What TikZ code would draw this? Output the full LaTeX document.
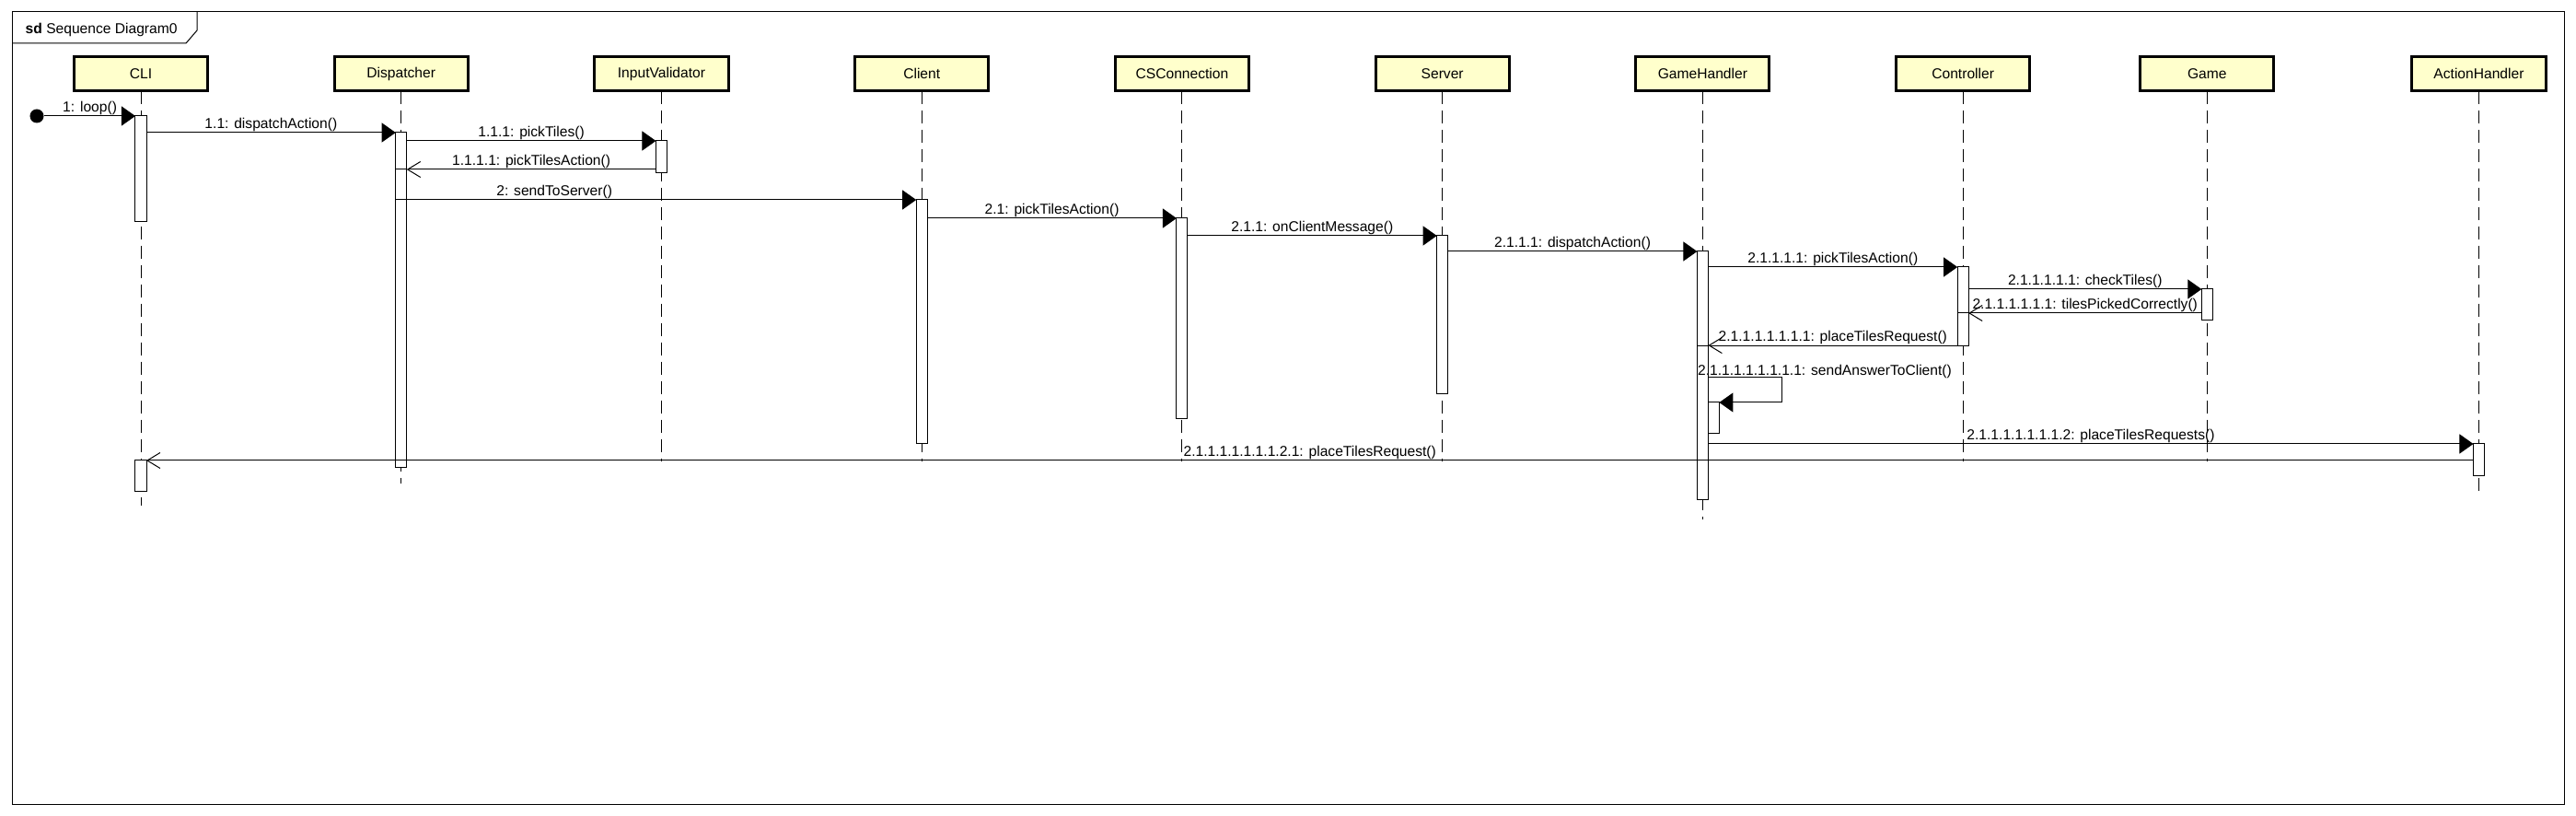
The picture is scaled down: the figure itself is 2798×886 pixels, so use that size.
\documentclass[tikz,border=0pt]{standalone}
\usepackage{fontspec}
\setmainfont{Liberation Sans}
\usepackage{xcolor}
\usetikzlibrary{arrows.meta,positioning}

\definecolor{headfill}{RGB}{255,255,204}

\begin{document}
\begin{tikzpicture}[
  x=0.01cm, y=-0.01cm,
  node distance=0.5cm and 1.3757cm,
  font=\fontsize{4.44pt}{5.3pt}\selectfont,
  head/.style={rectangle, draw=black, fill=headfill, line width=0.03cm, minimum width=1.45cm, minimum height=0.37cm, inner sep=0pt, outer sep=0pt},
  act/.style={rectangle, draw=black, fill=white, line width=0.01cm, minimum width=0.12cm, inner sep=0pt, outer sep=0pt, anchor=north},
  lifeline/.style={draw=black, line width=0.01cm, dash pattern=on 0.14cm off 0.07cm},
  call/.style={-{Triangle[length=0.15cm, width=0.21cm]}, line width=0.01cm},
  reply/.style={-{Straight Barb[length=0.14cm, width=0.17cm]}, line width=0.01cm},
  msg/.style={anchor=base, yshift=1.3pt, inner sep=0pt},
]
\useasboundingbox (0,0) rectangle (2798,886);

% Frame
\draw[line width=0.01cm] (13,13) rectangle (2785,873);
\draw[line width=0.01cm] (13,47) -- (202,47) -- (214,33) -- (214,13);
\node[anchor=base west, inner sep=0pt] (title) at (27,37) {\textbf{sd} Sequence Diagram0};

% Lifeline heads
\node[head] (cli) at (153,80) {CLI};
\node[head, right=of cli] (disp) {Dispatcher};
\node[head, right=of disp] (valid) {InputValidator};
\node[head, right=of valid] (client) {Client};
\node[head, right=of client] (conn) {CSConnection};
\node[head, right=of conn] (server) {Server};
\node[head, right=of server] (ghandler) {GameHandler};
\node[head, right=of ghandler] (ctrl) {Controller};
\node[head, right=1.2cm of ctrl] (game) {Game};
\node[head, right=1.5cm of game] (ahandler) {ActionHandler};

% Lifelines
\draw[lifeline] (cli.south) -- ++(0,450);
\draw[lifeline] (disp.south) -- ++(0,426);
\draw[lifeline] (valid.south) -- ++(0,402);
\draw[lifeline] (client.south) -- ++(0,402);
\draw[lifeline] (conn.south) -- ++(0,402);
\draw[lifeline] (server.south) -- ++(0,402);
\draw[lifeline] (ghandler.south) -- ++(0,465);
\draw[lifeline] (ctrl.south) -- ++(0,402);
\draw[lifeline] (game.south) -- ++(0,402);
\draw[lifeline] (ahandler.south) -- ++(0,438);

% Activations
\node[act, minimum height=1.14cm] (cliA) at (cli |- 0,126) {};
\node[act, minimum height=0.33cm] (cliB) at (cli |- 0,500) {};
\node[act, minimum height=3.63cm] (dispA) at (disp |- 0,144) {};
\node[act, minimum height=0.34cm] (validA) at (valid |- 0,153) {};
\node[act, minimum height=2.64cm] (clientA) at (client |- 0,217) {};
\node[act, minimum height=2.17cm] (connA) at (conn |- 0,237) {};
\node[act, minimum height=1.71cm] (serverA) at (server |- 0,256) {};
\node[act, minimum height=2.69cm] (ghA) at (ghandler |- 0,273) {};
\node[act, minimum height=0.33cm, anchor=north west] (ghB) at (ghA.east |- 0,437) {};
\node[act, minimum height=0.85cm] (ctrlA) at (ctrl |- 0,290) {};
\node[act, minimum height=0.33cm] (gameA) at (game |- 0,314) {};
\node[act, minimum height=0.34cm] (ahA) at (ahandler |- 0,482) {};

% Start
\node[circle, fill=black, minimum size=0.15cm, inner sep=0pt] (start) at (40,126) {};

% Messages
\draw[call] (start) -- (cliA.north west) node[msg, midway] {1: loop()};
\draw[call] (cliA.east |- dispA.north) -- (dispA.north west) node[msg, midway] {1.1: dispatchAction()};
\draw[call] (dispA.east |- validA.north) -- (validA.north west) node[msg, midway] {1.1.1: pickTiles()};
\draw[reply] (validA.west |- 0,184) -- (dispA.east |- 0,184) node[msg, midway] {1.1.1.1: pickTilesAction()};
\draw[line width=0.01cm] (dispA.east |- 0,184) -- (dispA.west |- 0,184);
\draw[call] (dispA.west |- clientA.north) -- (clientA.north west) node[msg, pos=0.305] {2: sendToServer()};
\draw[call] (clientA.east |- connA.north) -- (connA.north west) node[msg, midway] {2.1: pickTilesAction()};
\draw[call] (connA.east |- serverA.north) -- (serverA.north west) node[msg, midway] {2.1.1: onClientMessage()};
\draw[call] (serverA.east |- ghA.north) -- (ghA.north west) node[msg, midway] {2.1.1.1: dispatchAction()};
\draw[call] (ghA.east |- ctrlA.north) -- (ctrlA.north west) node[msg, midway] {2.1.1.1.1: pickTilesAction()};
\draw[call] (ctrlA.east |- gameA.north) -- (gameA.north west) node[msg, midway] {2.1.1.1.1.1: checkTiles()};
\draw[reply] (gameA.west |- 0,340) -- (ctrlA.east |- 0,340) node[msg, midway] {2.1.1.1.1.1.1: tilesPickedCorrectly()};
\draw[line width=0.01cm] (ctrlA.east |- 0,340) -- (ctrlA.west |- 0,340);
\draw[reply] (ctrlA.south west) -- (ghA.east |- ctrlA.south) node[msg, midway] {2.1.1.1.1.1.1.1: placeTilesRequest()};
\draw[line width=0.01cm] (ghA.east |- ctrlA.south) -- (ghA.west |- ctrlA.south);

% Self call
\node[anchor=base west, inner sep=0pt] (selflbl) at (ghA.west |- 0,408) {2.1.1.1.1.1.1.1.1: sendAnswerToClient()};
\draw[call] (ghA.east |- 0,410) -- ++(80,0) |- (ghB.north east);

\draw[call] (ghA.east |- ahA.north) -- (ahA.north west) node[msg, midway] {2.1.1.1.1.1.1.1.2: placeTilesRequests()};
\draw[reply] (ahA.west |- cliB.north) -- (cliB.north east) node[msg, midway] {2.1.1.1.1.1.1.1.2.1: placeTilesRequest()};

\end{tikzpicture}
\end{document}
